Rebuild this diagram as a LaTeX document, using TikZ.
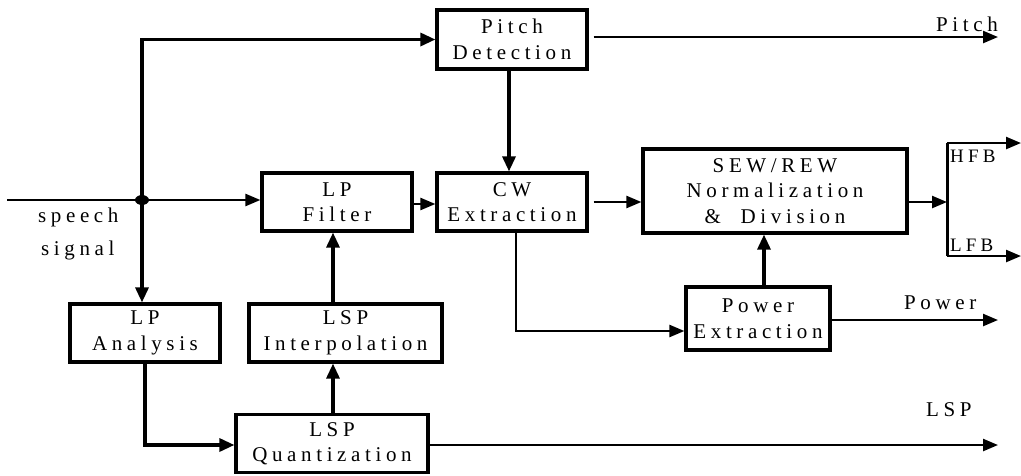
\documentclass[tikz,border=0pt]{standalone}
\usepackage{fontspec}
\setmainfont{Liberation Serif}[LetterSpace=22]
\usetikzlibrary{arrows.meta}
\tikzset{
  blk/.style={draw, line width=3.2pt, inner sep=0pt, align=center, font=\fontsize{21}{25.5}\selectfont},
  lbl/.style={inner sep=0pt, font=\fontsize{21}{22}\selectfont, anchor=base west},
  conn/.style={line width=2.4pt, -{Triangle[length=15pt,width=12pt]}},
  thick conn/.style={line width=3.2pt, -{Triangle[length=15pt,width=13pt]}},
  plain/.style={line width=2.4pt},
}
\begin{document}
\begin{tikzpicture}[x=1pt,y=-1pt]
\useasboundingbox (0,0) rectangle (1021,475);
% blocks
\node[blk, minimum width=150pt, minimum height=59pt] (pd) at (512,39.5) {Pitch\\Detection};
\node[blk, minimum width=150pt, minimum height=58pt] (lpf) at (337,202) {LP\\Filter};
\node[blk, minimum width=150pt, minimum height=58pt] (cw) at (512,202) {CW\\Extraction};
\node[blk, minimum width=264pt, minimum height=84pt] (sew) at (775,191) {SEW/REW\\Normalization\\\&\ \ Division};
\node[blk, minimum width=144pt, minimum height=63pt] (pow) at (758,318.5) {Power\\Extraction};
\node[blk, minimum width=150pt, minimum height=58pt] (lpa) at (145,333) {LP\\Analysis};
\node[blk, minimum width=193pt, minimum height=58pt] (lspi) at (345.5,333) {LSP\\Interpolation};
\node[blk, minimum width=192pt, minimum height=58pt] (lspq) at (332,443.5) {LSP\\Quantization};
% coordinates
\coordinate (in) at (7,200);
\coordinate (dot) at (142,200);
\coordinate (top) at (142,37);
\coordinate (pitchout) at (998,37);
\coordinate (powerout) at (998,320);
\coordinate (lspout) at (998,445);
\coordinate (split) at (947,202);
\coordinate (hfb) at (947,143);
\coordinate (lfb) at (947,256);
\coordinate (hfbout) at (1021,143);
\coordinate (lfbout) at (1021,256);
% labels
\node[lbl] (tspeech) at (38,222) {speech};
\node[lbl] (tsignal) at (41,255) {signal};
\node[lbl] (tpitch) at (936,31) {Pitch};
\node[lbl] (tpower) at (904,309) {Power};
\node[lbl] (tlsp) at (926,416) {LSP};
\node[lbl, font=\fontsize{19}{19}\selectfont] (thfb) at (950,162) {HFB};
\node[lbl, font=\fontsize{19}{19}\selectfont] (tlfb) at (950,251) {LFB};
% connectors
\draw[plain, line width=2.8pt] (in) -- (dot);
\fill (dot) ellipse (7pt and 5pt);
\draw[thick conn] (dot) |- (pd.west);
\draw[thick conn] (dot) -- (lpa.north -| dot);
\draw[conn] (dot) -- (lpf.west |- dot);
\draw[conn] (lpf.east |- 0,204) -- (cw.west |- 0,204);
\draw[thick conn] (pd.south -| 509,0) -- (cw.north -| 509,0);
\draw[conn] (pd.east |- top) ++(5,0) -- (pitchout);
\draw[conn] (cw.east |- 0,202) ++(5,0) -- (sew.west |- 0,202);
\draw[conn] (sew.east |- split) -- (split);
\draw[plain, line width=3pt] (hfb) -- (lfb);
\draw[conn] (hfb) -- (hfbout);
\draw[conn] (lfb) -- (lfbout);
\draw[conn] (cw.south -| 516,0) |- (pow.west |- 0,331);
\draw[thick conn] (pow.north -| 764,0) -- (sew.south -| 764,0);
\draw[conn] (pow.east |- powerout) -- (powerout);
\draw[thick conn] (lspi.north -| 333,0) -- (lpf.south -| 333,0);
\draw[thick conn] (lspq.north -| 333,0) -- (lspi.south -| 333,0);
\draw[thick conn] (lpa.south -| 145,0) |- (lspq.west |- 0,445);
\draw[conn] (lspq.east |- lspout) -- (lspout);
\end{tikzpicture}
\end{document}
